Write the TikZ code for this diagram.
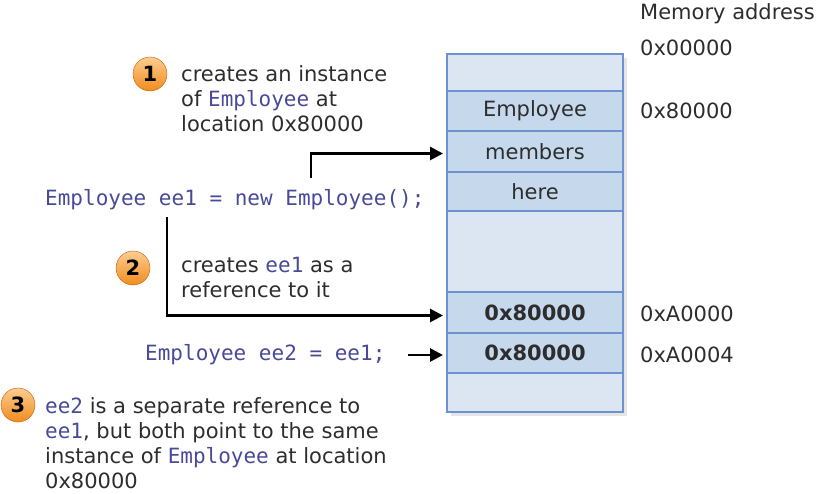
\documentclass[tikz,border=0pt]{standalone}
\usepackage{fontspec}
\setmainfont{DejaVu Sans}
\newfontfamily\codefont{DejaVu Sans Mono}
\usetikzlibrary{arrows.meta,positioning}
\definecolor{txtgray}{RGB}{45,45,45}
\definecolor{codeblue}{RGB}{72,74,152}
\definecolor{cellfill}{RGB}{220,230,242}
\definecolor{cellfull}{RGB}{198,217,236}
\definecolor{cellline}{RGB}{110,145,210}
\definecolor{badgetop}{RGB}{253,205,145}
\definecolor{badgebot}{RGB}{240,140,30}
\newcommand\cd[1]{{\codefont\color{codeblue}#1}}

\begin{document}
\begin{tikzpicture}[x=1pt,y=-1pt,font=\fontsize{21}{25}\selectfont,text=txtgray,
  cell/.style={draw=cellline,fill=cellfill,line width=1.2pt,minimum width=176pt,inner sep=0pt,outer sep=0pt,anchor=north west},
  used/.style={cell,fill=cellfull},
  badge/.style={circle,draw=orange!75!black,top color=badgetop,bottom color=badgebot,minimum size=34pt,inner sep=0pt,font=\fontsize{21}{21}\selectfont\bfseries,text=black},
  note/.style={align=left,anchor=west,inner sep=0pt},
  code/.style={font=\fontsize{21}{25}\codefont,text=codeblue,anchor=west,inner sep=0pt},
  ptr/.style={line width=2.8pt,-{Triangle[length=13pt,width=13pt]},shorten >=4pt}]
\useasboundingbox (0,0) rectangle (830,494);

% memory column
\fill [black!10] (451,58) rectangle (627,416);
\node [cell,minimum height=37pt] (top) at (447,54) {};
\node [used,minimum height=40pt,below=0pt of top] (emp) {Employee};
\node [used,minimum height=41pt,below=0pt of emp] (mem) {members};
\node [used,minimum height=39pt,below=0pt of mem] (here) {here};
\node [cell,minimum height=81pt,below=0pt of here] (gap) {};
\node [used,minimum height=41pt,below=0pt of gap] (ref1) {\bfseries 0x80000};
\node [used,minimum height=40pt,below=0pt of ref1] (ref2) {\bfseries 0x80000};
\node [cell,minimum height=39pt,below=0pt of ref2] (bot) {};

% addresses
\node [note] (title) at (640,14) {Memory address};
\node [note] (a0) at (640,48) {0x00000};
\node [note] (a8) at (640,111) {0x80000};
\node [note] (aA0) at (640,314) {0xA0000};
\node [note] (aA4) at (640,355) {0xA0004};

% code
\node [code] (line1) at (45,200) {Employee ee1 = new Employee();};
\node [code] (line2) at (145,355) {Employee ee2 = ee1;};

% notes
\node [badge] (b1) at (150,74) {1};
\node [note] (n1) at (181,99) {creates an instance\\of \cd{Employee} at\\location 0x80000};
\node [badge] (b2) at (133,268) {2};
\node [note] (n2) at (181,277) {creates \cd{ee1} as a\\reference to it};
\node [badge] (b3) at (18,405) {3};
\node [note] (n3) at (45,443) {\cd{ee2} is a separate reference to\\\cd{ee1}, but both point to the same\\instance of \cd{Employee} at location\\0x80000};

% arrows
\coordinate (up) at (311,178);
\coordinate (down) at (167,217);
\draw [ptr] (up) |- ([yshift=-2pt]mem.west);
\draw [ptr] (down) |- ([yshift=-3pt]ref1.west);
\draw [ptr,shorten <=22pt] (line2.east) -- (line2.east -| ref2.west);
\end{tikzpicture}
\end{document}
